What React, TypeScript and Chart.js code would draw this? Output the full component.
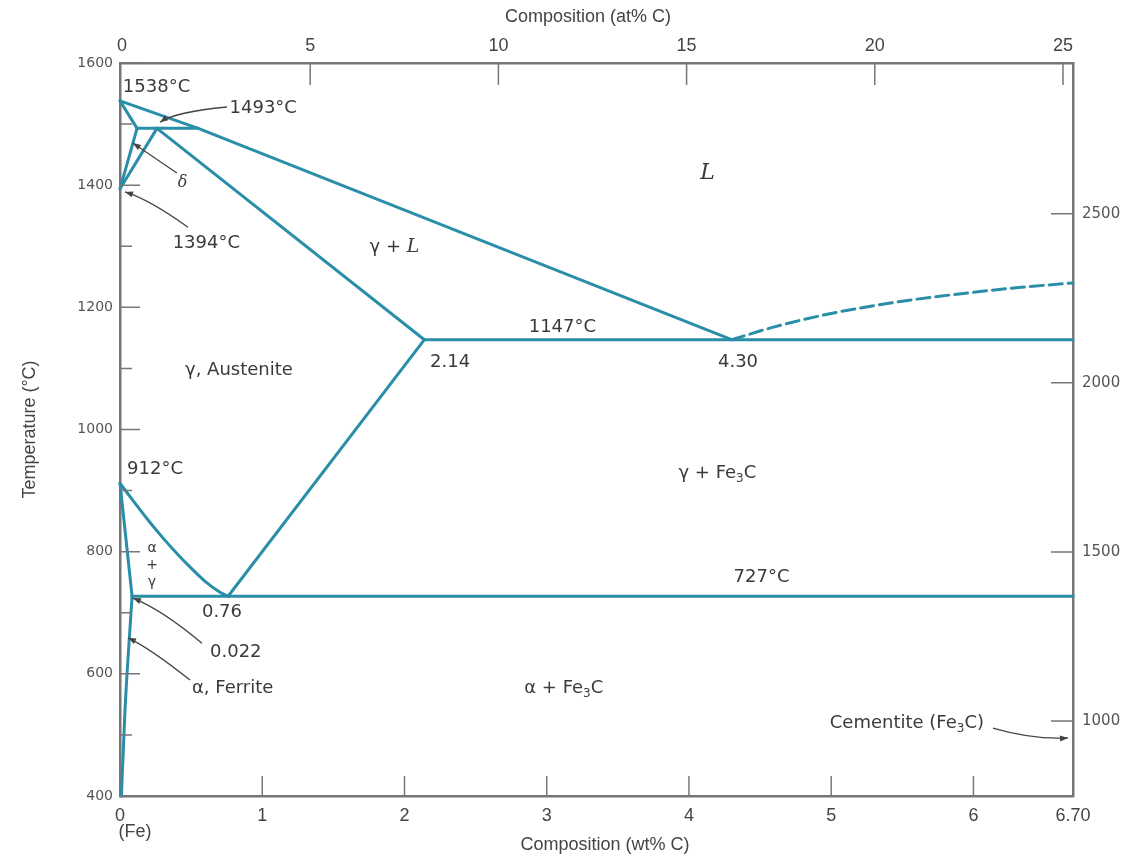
import React, { useEffect, useRef } from 'react';
import { Chart, registerables } from 'chart.js';
Chart.register(...registerables);

// ---------- data (wt% C, °C) ----------
const liquidus = [[0, 1538], [0.55, 1493], [4.3, 1147]];
const liquidusFe3C = [[4.3, 1147], [4.6, 1168], [5.0, 1190], [5.5, 1210], [5.9, 1222], [6.3, 1232], [6.7, 1240]];
const deltaSolidus = [[0, 1538], [0.12, 1493]];
const deltaSolvus = [[0, 1394], [0.12, 1493]];
const gammaDelta = [[0, 1394], [0.26, 1493]];
const peritectic = [[0.12, 1493], [0.55, 1493]];
const solidus = [[0.26, 1493], [2.14, 1147]];
const eutectic = [[2.14, 1147], [6.7, 1147]];
const acm = [[0.76, 727], [2.14, 1147]];
const a3 = [[0, 912], [0.1, 881], [0.2, 851], [0.3, 823], [0.4, 797], [0.5, 773], [0.6, 751], [0.7, 734], [0.76, 727]];
const alphaUpper = [[0, 912], [0.085, 727]];
const alphaSolvus = [[0.01, 400], [0.035, 540], [0.085, 727]];
const eutectoid = [[0.085, 727], [6.7, 727]];

const wtTicks = [0, 1, 2, 3, 4, 5, 6, 6.7];
const atTicks = [0, 5, 10, 15, 20, 25];
const fTicks = [1000, 1500, 2000, 2500];

type Part = { t: string; it?: boolean; sub?: boolean; size?: number };
const annotations: { x: number; y: number; align: CanvasTextAlign; parts: Part[] }[] = [
  { x: 0.02, y: 1560, align: 'left', parts: [{ t: '1538°C' }] },
  { x: 0.77, y: 1526, align: 'left', parts: [{ t: '1493°C' }] },
  { x: 0.44, y: 1403, align: 'center', parts: [{ t: 'δ', it: true, size: 16 }] },
  { x: 0.37, y: 1305, align: 'left', parts: [{ t: '1394°C' }] },
  { x: 4.13, y: 1420, align: 'center', parts: [{ t: 'L', it: true, size: 22 }] },
  { x: 1.93, y: 1299, align: 'center', parts: [{ t: 'γ + ' }, { t: 'L', it: true, size: 19 }] },
  { x: 3.11, y: 1168, align: 'center', parts: [{ t: '1147°C' }] },
  { x: 2.18, y: 1110, align: 'left', parts: [{ t: '2.14' }] },
  { x: 4.345, y: 1110, align: 'center', parts: [{ t: '4.30' }] },
  { x: 0.457, y: 1097, align: 'left', parts: [{ t: 'γ, Austenite' }] },
  { x: 0.05, y: 934, align: 'left', parts: [{ t: '912°C' }] },
  { x: 4.2, y: 929, align: 'center', parts: [{ t: 'γ + Fe' }, { t: '3', sub: true }, { t: 'C' }] },
  { x: 0.225, y: 806, align: 'center', parts: [{ t: 'α', size: 14 }] },
  { x: 0.225, y: 778, align: 'center', parts: [{ t: '+', size: 14 }] },
  { x: 0.225, y: 749, align: 'center', parts: [{ t: 'γ', size: 14 }] },
  { x: 4.51, y: 758, align: 'center', parts: [{ t: '727°C' }] },
  { x: 0.717, y: 700, align: 'center', parts: [{ t: '0.76' }] },
  { x: 0.633, y: 636, align: 'left', parts: [{ t: '0.022' }] },
  { x: 0.506, y: 577, align: 'left', parts: [{ t: 'α, Ferrite' }] },
  { x: 3.12, y: 577, align: 'center', parts: [{ t: 'α + Fe' }, { t: '3', sub: true }, { t: 'C' }] },
  { x: 4.99, y: 519, align: 'left', parts: [{ t: 'Cementite (Fe' }, { t: '3', sub: true }, { t: 'C)' }] },
];

const leaders = [
  [[0.752, 1528], [0.387, 1520], [0.281, 1503]],
  [[0.4, 1420], [0.246, 1444], [0.091, 1469]],
  [[0.478, 1331], [0.211, 1376], [0.035, 1389]],
  [[0.576, 650], [0.302, 704], [0.091, 724]],
  [[0.492, 590], [0.211, 642], [0.056, 659]],
  [[6.137, 511], [6.419, 492], [6.665, 495]],
];

// ---------- styles ----------
const LINE = '#2a8ea8';
const AXIS = '#777777';
const TEXT = '#3a3a3a';
const SANS = '"DejaVu Sans", Verdana, sans-serif';
const NARROW = '"Liberation Sans Narrow", "Liberation Sans", Arial, sans-serif';
const SERIF = '"DejaVu Serif", serif';

function seg(pts: number[][], opts: any = {}) {
  return {
    data: pts.map(([x, y]) => ({ x, y })),
    showLine: true,
    borderColor: LINE,
    borderWidth: 3,
    pointRadius: 0,
    pointHoverRadius: 0,
    fill: false,
    clip: false,
    borderCapStyle: 'round',
    borderJoinStyle: 'round',
    tension: 0,
    ...opts,
  };
}

function drawRich(ctx: CanvasRenderingContext2D, parts: Part[], x: number, y: number, align: CanvasTextAlign) {
  const fontOf = (p: Part) => {
    const size = p.sub ? 12 : p.size || 18;
    if (p.it) return `italic ${size}px ${SERIF}`;
    return `${size}px ${SANS}`;
  };
  let total = 0;
  const widths = parts.map((p) => {
    ctx.font = fontOf(p);
    const w = ctx.measureText(p.t).width;
    total += w;
    return w;
  });
  let cx = align === 'left' ? x : align === 'right' ? x - total : x - total / 2;
  ctx.textAlign = 'left';
  ctx.textBaseline = 'middle';
  parts.forEach((p, i) => {
    ctx.font = fontOf(p);
    ctx.fillText(p.t, cx, p.sub ? y + 6 : y);
    cx += widths[i];
  });
}

const overlay = {
  id: 'overlay',
  afterDatasetsDraw(chart: any) {
    const ctx: CanvasRenderingContext2D = chart.ctx;
    const { x, y, x2, y2 } = chart.scales;
    const area = chart.chartArea;
    const px = (v: number) => x.getPixelForValue(v);
    const py = (v: number) => y.getPixelForValue(v);
    ctx.save();

    // inward tick marks
    ctx.strokeStyle = AXIS;
    ctx.lineWidth = 1.5;
    ctx.beginPath();
    y.ticks.forEach((t: any) => {
      const yy = py(t.value);
      const len = t.value % 200 === 0 ? 20 : 12;
      ctx.moveTo(area.left, yy);
      ctx.lineTo(area.left + len, yy);
    });
    x.ticks.forEach((t: any) => {
      if (t.value <= 0 || t.value >= 6.7) return;
      const xx = px(t.value);
      ctx.moveTo(xx, area.bottom);
      ctx.lineTo(xx, area.bottom - 20);
    });
    x2.ticks.forEach((t: any) => {
      if (t.value <= 0) return;
      const xx = x2.getPixelForValue(t.value);
      ctx.moveTo(xx, area.top);
      ctx.lineTo(xx, area.top + 22);
    });
    y2.ticks.forEach((t: any) => {
      const yy = y2.getPixelForValue(t.value);
      ctx.moveTo(area.right, yy);
      ctx.lineTo(area.right - 22, yy);
    });
    ctx.stroke();

    // leader lines with arrowheads
    ctx.strokeStyle = '#444';
    ctx.fillStyle = '#444';
    ctx.lineWidth = 1.3;
    leaders.forEach(([a, c, b]) => {
      const ax = px(a[0]), ay = py(a[1]);
      const cxp = px(c[0]), cyp = py(c[1]);
      const bx = px(b[0]), by = py(b[1]);
      ctx.beginPath();
      ctx.moveTo(ax, ay);
      ctx.quadraticCurveTo(cxp, cyp, bx, by);
      ctx.stroke();
      const ang = Math.atan2(by - cyp, bx - cxp);
      const L = 8, W = 3;
      ctx.beginPath();
      ctx.moveTo(bx, by);
      ctx.lineTo(bx - L * Math.cos(ang) + W * Math.sin(ang), by - L * Math.sin(ang) - W * Math.cos(ang));
      ctx.lineTo(bx - L * Math.cos(ang) - W * Math.sin(ang), by - L * Math.sin(ang) + W * Math.cos(ang));
      ctx.closePath();
      ctx.fill();
    });

    // text annotations
    ctx.fillStyle = TEXT;
    annotations.forEach((a) => drawRich(ctx, a.parts, px(a.x), py(a.y), a.align));

    // axis titles
    ctx.fillStyle = '#444';
    ctx.font = `18px ${NARROW}`;
    ctx.textAlign = 'center';
    ctx.textBaseline = 'middle';
    ctx.fillText('Composition (at% C)', 588, 17);
    ctx.fillText('Composition (wt% C)', 605, 845);
    ctx.fillText('(Fe)', 135, 832);
    ctx.save();
    ctx.translate(30, (area.top + area.bottom) / 2);
    ctx.rotate(-Math.PI / 2);
    ctx.fillText('Temperature (°C)', 0, 0);
    ctx.restore();

    ctx.restore();
  },
};

export default function App() {
  const ref = useRef<HTMLCanvasElement>(null);
  useEffect(() => {
    const datasets = [
      seg(liquidus),
      seg(liquidusFe3C, { borderDash: [13, 6], cubicInterpolationMode: 'monotone' }),
      seg(deltaSolidus),
      seg(deltaSolvus),
      seg(gammaDelta),
      seg(peritectic),
      seg(solidus),
      seg(eutectic),
      seg(acm),
      seg(a3, { tension: 0.2 }),
      seg(alphaUpper),
      seg(alphaSolvus, { cubicInterpolationMode: 'monotone' }),
      seg(eutectoid),
    ];
    const noGrid = { display: false, drawTicks: false };
    const border = { display: true, color: AXIS, width: 2.5 };
    const chart = new Chart(ref.current as HTMLCanvasElement, {
      type: 'scatter',
      data: { datasets: datasets as any },
      plugins: [overlay],
      options: {
        responsive: false,
        animation: false,
        devicePixelRatio: 1,
        layout: { padding: 0 },
        events: [],
        plugins: { legend: { display: false }, tooltip: { enabled: false } },
        scales: {
          x: {
            type: 'linear',
            position: 'bottom',
            min: 0,
            max: 6.7,
            grid: noGrid,
            border,
            afterBuildTicks: (s: any) => { s.ticks = wtTicks.map((v) => ({ value: v })); },
            afterFit: (s: any) => { s.height = 60; },
            ticks: {
              autoSkip: false,
              maxRotation: 0,
              padding: 9,
              color: '#444',
              font: { family: NARROW, size: 18 },
              callback: (v: any) => (v === 6.7 ? '6.70' : String(v)),
            },
          },
          x2: {
            type: 'linear',
            position: 'top',
            min: -0.053,
            max: 25.266,
            grid: noGrid,
            border,
            afterBuildTicks: (s: any) => { s.ticks = atTicks.map((v) => ({ value: v })); },
            afterFit: (s: any) => { s.height = 63; },
            ticks: {
              autoSkip: false,
              maxRotation: 0,
              padding: 6,
              color: '#444',
              font: { family: NARROW, size: 18 },
              callback: (v: any) => String(v),
            },
          },
          y: {
            type: 'linear',
            position: 'left',
            min: 400,
            max: 1600,
            grid: noGrid,
            border,
            afterFit: (s: any) => { s.width = 120; },
            ticks: {
              stepSize: 100,
              autoSkip: false,
              padding: 7,
              color: '#555',
              font: { family: SANS, size: 14 },
              callback: (v: any) => (v % 200 === 0 ? String(v) : ''),
            },
          },
          y2: {
            type: 'linear',
            position: 'right',
            min: 778,
            max: 2946,
            grid: noGrid,
            border,
            afterBuildTicks: (s: any) => { s.ticks = fTicks.map((v) => ({ value: v })); },
            afterFit: (s: any) => { s.width = 59; },
            ticks: {
              autoSkip: false,
              padding: 9,
              color: '#555',
              font: { family: SANS, size: 15 },
              callback: (v: any) => String(v),
            },
          },
        },
      } as any,
    });
    return () => chart.destroy();
  }, []);
  return (
    <div style={{ position: 'absolute', left: 0, top: 0, width: 1132, height: 856, background: '#fff' }}>
      <canvas ref={ref} width={1132} height={856} style={{ display: 'block' }} />
    </div>
  );
}
